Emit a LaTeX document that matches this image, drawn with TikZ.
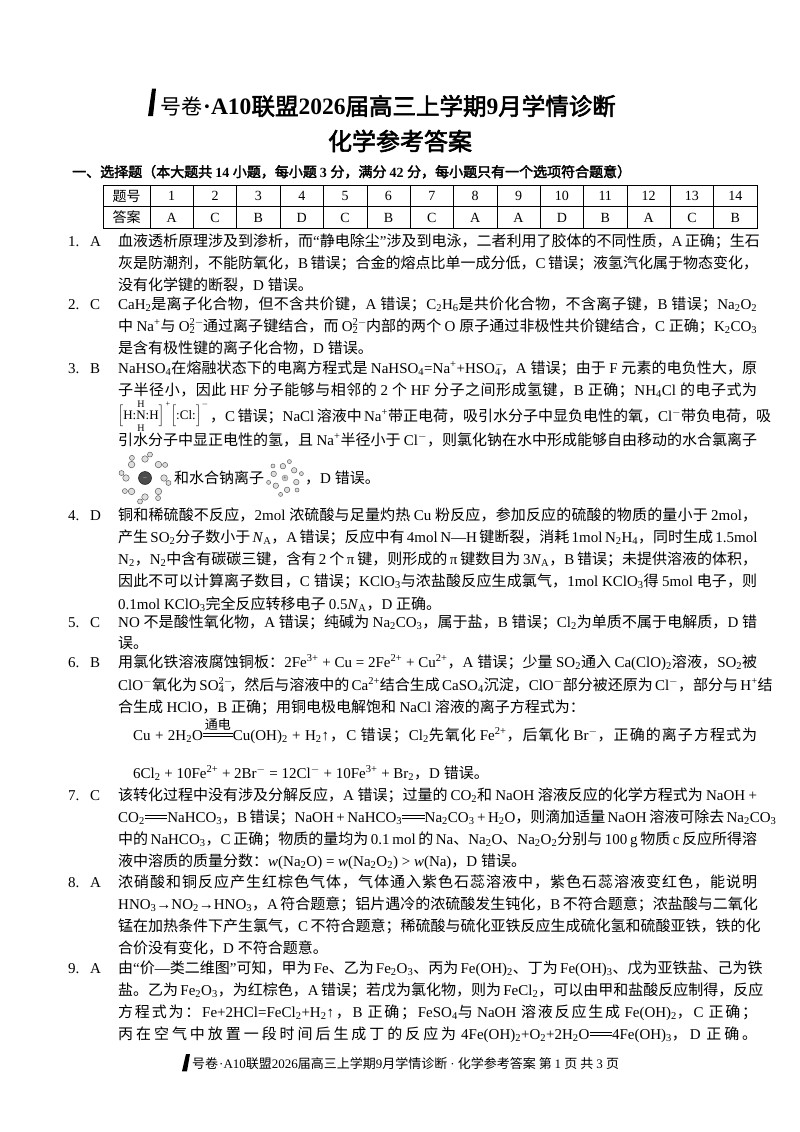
\documentclass[tikz,border=0pt]{standalone}
\usepackage{amsmath}
\usepackage{fontspec}
\setmainfont{Liberation Serif}
\newfontfamily\lat{Liberation Serif}
\newfontfamily\cjk[AutoFakeBold=2.5]{Noto Sans CJK SC}
\XeTeXinterchartokenstate=1
\newXeTeXintercharclass\CJKcls
\count255="3000
\loop\XeTeXcharclass\count255=\CJKcls\ifnum\count255<"9FFF\advance\count255 1\repeat
\count255="FF00
\loop\XeTeXcharclass\count255=\CJKcls\ifnum\count255<"FFEF\advance\count255 1\repeat
\XeTeXinterchartoks 0 \CJKcls={\hskip0pt plus 3pt\cjk}
\XeTeXinterchartoks 4095 \CJKcls={\cjk}
\XeTeXinterchartoks \CJKcls 0={\lat\hskip0pt plus 3pt}
\XeTeXinterchartoks 4095 0={\lat}
\XeTeXinterchartoks \CJKcls \CJKcls={\hskip0pt plus 3pt}
\newcommand\cs[1]{\textsubscript{#1}}
\newcommand\cp[1]{\textsuperscript{#1}}
\newcommand\ionx[2]{\rlap{\cp{#2}}\cs{#1}}
\newcommand\deq{\raisebox{0.22em}{\rlap{\rule{1.5em}{0.06em}}\raisebox{0.2em}{\rule{1.5em}{0.06em}}}}
\newcommand\tdeq{$\mathop{\hbox{\raisebox{0.22em}{\rlap{\rule{2em}{0.06em}}\raisebox{0.2em}{\rule{2em}{0.06em}}}}}\limits^{\hbox{\fontsize{13}{13}\selectfont 通电}}$}
\tikzset{x=1pt,y=-1pt,
 ln/.style={anchor=base west,inner sep=0pt,font=\fontsize{15}{15}\selectfont},
 wat/.style={circle,draw=gray!70!black,fill=gray!25,line width=0.5pt,inner sep=0pt,minimum size=6.5pt}}
\newcommand\jl[2]{\node[ln] at (118,#1) {\hbox to 639pt{#2}};}
\newcommand\nl[2]{\node[ln] at (118,#1) {#2};}
\newcommand\num[3]{\node[ln] at (68,#1) {#2}; \node[ln] at (90,#1) {#3};}
\newcommand\logo[3]{\fill[black] (#1-2,#2+#3*0.55) -- (#1+2,#2-#3*0.6) -- (#1+6,#2-#3*0.6) -- (#1+3,#2+#3*0.55) -- cycle;}
\usetikzlibrary{calc}
\begin{document}
\begin{tikzpicture}
\useasboundingbox[fill=white] (0,0) rectangle (800,1132);
% title
\logo{150}{103}{24}
\node[anchor=west,inner sep=0pt,font=\fontsize{21}{21}\selectfont\itshape] (lg) at (160,106) {号卷};
\node[anchor=west,inner sep=0pt,font=\fontsize{23.5}{23.5}\selectfont\bfseries] (t1) at (203,106) {·A10联盟2026届高三上学期9月学情诊断};
\node[inner sep=0pt,font=\fontsize{24}{24}\selectfont\bfseries] (t2) at (400,141) {化学参考答案};
\node[anchor=base west,inner sep=0pt,font=\fontsize{14}{14}\selectfont\bfseries] (hd) at (72,177) {一、选择题（本大题共 14 小题，每小题 3 分，满分 42 分，每小题只有一个选项符合题意）};
% table
\draw[line width=0.8pt] (103,185) rectangle (757,228);
\draw[line width=0.5pt] (103,206.5) -- (757,206.5);
\foreach \i in {0,...,13} {\draw[line width=0.5pt] (150+\i*43.357,185) -- (150+\i*43.357,228);}
\node[font=\fontsize{14}{14}\selectfont] (th) at (126.5,196) {题号};
\node[font=\fontsize{14}{14}\selectfont] (ta) at (126.5,217.5) {答案};
\foreach \a [count=\i] in {A,C,B,D,C,B,C,A,A,D,B,A,C,B} {
 \node[font=\fontsize{14}{14}\selectfont] at (150+\i*43.357-21.68,196) {\i};
 \node[font=\fontsize{14}{14}\selectfont] at (150+\i*43.357-21.68,217.5) {\a};}
% 1
\num{246}{1.}{A}
\jl{246}{血液透析原理涉及到渗析，而“静电除尘”涉及到电泳，二者利用了胶体的不同性质，A 正确；生石}
\jl{268}{灰是防潮剂，不能防氧化，B 错误；合金的熔点比单一成分低，C 错误；液氢汽化属于物态变化，}
\nl{290}{没有化学键的断裂，D 错误。}
% 2
\num{309}{2.}{C}
\jl{309}{CaH\cs{2}是离子化合物，但不含共价键，A 错误；C\cs{2}H\cs{6}是共价化合物，不含离子键，B 错误；Na\cs{2}O\cs{2}}
\jl{331}{中 Na\cp{+}与 O\ionx{2}{2$-$}\ \ 通过离子键结合，而 O\ionx{2}{2$-$}\ \ 内部的两个 O 原子通过非极性共价键结合，C 正确；K\cs{2}CO\cs{3}}
\nl{353}{是含有极性键的离子化合物，D 错误。}
% 3
\num{373}{3.}{B}
\jl{373}{NaHSO\cs{4}在熔融状态下的电离方程式是 NaHSO\cs{4}=Na\cp{+}+HSO\ionx{4}{$-$}，A 错误；由于 F 元素的电负性大，原}
\jl{395}{子半径小，因此 HF 分子能够与相邻的 2 个 HF 分子之间形成氢键，B 正确；NH\cs{4}Cl 的电子式为}
\node[inner sep=0pt,font=\fontsize{13}{13}\selectfont] (ef1) at (141,416) {$\Bigl[$H:N:H$\Bigr]$};
\node[inner sep=0pt,font=\fontsize{10}{10}\selectfont] (efh1) at (141,404) {H};
\node[inner sep=0pt,font=\fontsize{10}{10}\selectfont] (efh2) at (141,428) {H};
\node[inner sep=0pt,font=\fontsize{8}{8}\selectfont] (efp) at (168,404) {+};
\node[inner sep=0pt,font=\fontsize{13}{13}\selectfont] (ef2) at (186,416) {$\Bigl[$:Cl:$\Bigr]$};
\node[inner sep=0pt,font=\fontsize{8}{8}\selectfont] (efm) at (205,404) {$-$};
\node[ln] at (210,421) {\hbox to 547pt{，C 错误；NaCl 溶液中 Na\cp{+}带正电荷，吸引水分子中显负电性的氧，Cl\cp{$-$}带负电荷，吸}};
\jl{445}{引水分子中显正电性的氢，且 Na\cp{+}半径小于 Cl\cp{$-$}，则氯化钠在水中形成能够自由移动的水合氯离子}
% hydrated chloride
\node[circle,fill=gray!60!black,draw=black,minimum size=13pt,inner sep=0pt,text=white,font=\tiny] (cl) at (145,478) {$-$};
\foreach \a in {0,45,...,315} {\node[wat] at ($(cl)+(\a:19)$) {}; \node[wat,minimum size=5pt] at ($(cl)+(\a+12:24)$) {};}
\node[ln] (hc) at (174,483) {和水合钠离子};
\node[circle,fill=gray!40,draw=gray,minimum size=6pt,inner sep=0pt,font=\tiny] (na) at (285,478) {+};
\foreach \a in {20,80,...,320} {\node[wat,minimum size=5.5pt] at ($(na)+(\a:12)$) {}; \node[wat,minimum size=4pt] at ($(na)+(\a+25:17)$) {};}
\node[ln] (hd3) at (305,483) {，D 错误。};
% 4
\num{520}{4.}{D}
\jl{520}{铜和稀硫酸不反应，2mol 浓硫酸与足量灼热 Cu 粉反应，参加反应的硫酸的物质的量小于 2mol，}
\jl{542}{产生 SO\cs{2}分子数小于 \textit{N}\cs{A}，A 错误；反应中有 4mol N—H 键断裂，消耗 1mol N\cs{2}H\cs{4}，同时生成 1.5mol}
\jl{564}{N\cs{2}，N\cs{2}中含有碳碳三键，含有 2 个 π 键，则形成的 π 键数目为 3\textit{N}\cs{A}，B 错误；未提供溶液的体积，}
\jl{586}{因此不可以计算离子数目，C 错误；KClO\cs{3}与浓盐酸反应生成氯气，1mol KClO\cs{3}得 5mol 电子，则}
\nl{609}{0.1mol KClO\cs{3}完全反应转移电子 0.5\textit{N}\cs{A}，D 正确。}
% 5
\num{627}{5.}{C}
\jl{627}{NO 不是酸性氧化物，A 错误；纯碱为 Na\cs{2}CO\cs{3}，属于盐，B 错误；Cl\cs{2}为单质不属于电解质，D 错}
\nl{648}{误。}
% 6
\num{667}{6.}{B}
\jl{667}{用氯化铁溶液腐蚀铜板：2Fe\cp{3+} + Cu = 2Fe\cp{2+} + Cu\cp{2+}，A 错误；少量 SO\cs{2}通入 Ca(ClO)\cs{2}溶液，SO\cs{2}被}
\jl{690}{ClO\cp{$-$}氧化为 SO\ionx{4}{2$-$}\ \ ，然后与溶液中的 Ca\cp{2+}结合生成 CaSO\cs{4}沉淀，ClO\cp{$-$}部分被还原为 Cl\cp{$-$}，部分与 H\cp{+}结}
\nl{712}{合生成 HClO，B 正确；用铜电极电解饱和 NaCl 溶液的离子方程式为：}
\node[ln] at (133,740) {\hbox to 624pt{Cu + 2H\cs{2}O\tdeq Cu(OH)\cs{2} + H\cs{2}↑，C 错误；Cl\cs{2}先氧化 Fe\cp{2+}，后氧化 Br\cp{$-$}，正确的离子方程式为}};
\node[ln] at (133,778) {6Cl\cs{2} + 10Fe\cp{2+} + 2Br\cp{$-$} = 12Cl\cp{$-$} + 10Fe\cp{3+} + Br\cs{2}，D 错误。};
% 7
\num{800}{7.}{C}
\jl{800}{该转化过程中没有涉及分解反应，A 错误；过量的 CO\cs{2}和 NaOH 溶液反应的化学方程式为 NaOH +}
\jl{822}{CO\cs{2}\deq NaHCO\cs{3}，B 错误；NaOH + NaHCO\cs{3}\deq Na\cs{2}CO\cs{3} + H\cs{2}O，则滴加适量 NaOH 溶液可除去 Na\cs{2}CO\cs{3}}
\jl{844}{中的 NaHCO\cs{3}，C 正确；物质的量均为 0.1 mol 的 Na、Na\cs{2}O、Na\cs{2}O\cs{2}分别与 100 g 物质 c 反应所得溶}
\nl{866}{液中溶质的质量分数：\textit{w}(Na\cs{2}O) = \textit{w}(Na\cs{2}O\cs{2}) > \textit{w}(Na)，D 错误。}
% 8
\num{887}{8.}{A}
\jl{887}{浓硝酸和铜反应产生红棕色气体，气体通入紫色石蕊溶液中，紫色石蕊溶液变红色，能说明}
\jl{909}{HNO\cs{3}→NO\cs{2}→HNO\cs{3}，A 符合题意；铝片遇冷的浓硫酸发生钝化，B 不符合题意；浓盐酸与二氧化}
\jl{931}{锰在加热条件下产生氯气，C 不符合题意；稀硫酸与硫化亚铁反应生成硫化氢和硫酸亚铁，铁的化}
\nl{953}{合价没有变化，D 不符合题意。}
% 9
\num{973}{9.}{A}
\jl{973}{由“价—类二维图”可知，甲为 Fe、乙为 Fe\cs{2}O\cs{3}、丙为 Fe(OH)\cs{2}、丁为 Fe(OH)\cs{3}、戊为亚铁盐、己为铁}
\jl{995}{盐。乙为 Fe\cs{2}O\cs{3}，为红棕色，A 错误；若戊为氯化物，则为 FeCl\cs{2}，可以由甲和盐酸反应制得，反应}
\jl{1017}{方程式为：Fe+2HCl=FeCl\cs{2}+H\cs{2}↑，B 正确；FeSO\cs{4}与 NaOH 溶液反应生成 Fe(OH)\cs{2}，C 正确；}
\jl{1039}{丙在空气中放置一段时间后生成丁的反应为 4Fe(OH)\cs{2}+O\cs{2}+2H\cs{2}O\deq 4Fe(OH)\cs{3}，D 正确。}
% footer
\logo{184}{1063}{15}
\node[anchor=west,inner sep=0pt,font=\fontsize{13}{13}\selectfont\itshape] (flg) at (192,1064) {号卷};
\node[anchor=west,inner sep=0pt,font=\fontsize{13}{13}\selectfont] (ft) at (219,1064) {·A10联盟2026届高三上学期9月学情诊断 · 化学参考答案 第 1 页 共 3 页};
\end{tikzpicture}
\end{document}
